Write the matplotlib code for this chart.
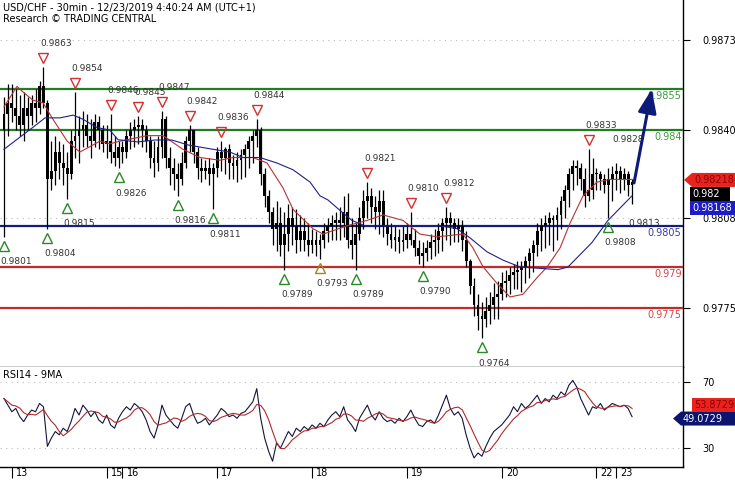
import numpy as np
import pandas as pd
import matplotlib
matplotlib.use('Agg')
import matplotlib.pyplot as plt
from matplotlib.transforms import ScaledTranslation
from matplotlib.patches import Polygon

# USD/CHF hourly candles, prices in pips (0.9840 -> 9840)
days = ['12', '13', '15', '16', '17', '18', '19', '20', '22', '23']
bars_per_day = [2, 24, 4, 24, 24, 24, 24, 24, 5, 5]
first_open = 9840
highs = [9852, 9857, 9857, 9855, 9853, 9854, 9852, 9853, 9855, 9858,
         9863, 9851, 9836, 9838, 9836, 9835, 9832, 9840, 9854, 9845,
         9847, 9846, 9844, 9846, 9845, 9842, 9842, 9846, 9838, 9836,
         9836, 9840, 9843, 9844, 9845, 9844, 9842, 9838, 9836, 9838,
         9847, 9845, 9834, 9830, 9828, 9832, 9838, 9842, 9840, 9834,
         9830, 9829, 9830, 9828, 9834, 9836, 9834, 9835, 9831, 9832,
         9833, 9835, 9838, 9840, 9844, 9841, 9826, 9818, 9812, 9814,
         9812, 9810, 9813, 9812, 9811, 9809, 9808, 9806, 9804, 9803,
         9802, 9806, 9808, 9809, 9810, 9812, 9816, 9817, 9808, 9806,
         9812, 9818, 9821, 9819, 9816, 9818, 9818, 9808, 9806, 9805,
         9804, 9805, 9806, 9810, 9804, 9800, 9799, 9800, 9802, 9804,
         9806, 9808, 9812, 9810, 9808, 9808, 9807, 9803, 9793, 9786,
         9780, 9777, 9779, 9781, 9784, 9785, 9788, 9789, 9790, 9791,
         9792, 9792, 9794, 9797, 9800, 9806, 9808, 9809, 9810, 9809,
         9812, 9816, 9820, 9826, 9829, 9829, 9828, 9826, 9833, 9830,
         9826, 9825, 9824, 9826, 9827, 9828, 9827, 9826, 9825, 9822]
lows = [9801, 9838, 9843, 9840, 9838, 9836, 9840, 9842, 9843, 9846,
        9848, 9804, 9818, 9820, 9822, 9820, 9815, 9822, 9830, 9828,
        9834, 9834, 9830, 9834, 9833, 9832, 9830, 9828, 9827, 9826,
        9828, 9830, 9833, 9834, 9835, 9834, 9832, 9826, 9823, 9825,
        9830, 9826, 9820, 9818, 9816, 9820, 9826, 9832, 9828, 9822,
        9821, 9822, 9820, 9811, 9823, 9825, 9824, 9822, 9822, 9821,
        9822, 9823, 9826, 9828, 9834, 9820, 9812, 9806, 9798, 9796,
        9794, 9789, 9796, 9798, 9795, 9796, 9796, 9794, 9795, 9794,
        9793, 9797, 9799, 9800, 9800, 9800, 9801, 9797, 9793, 9789,
        9800, 9804, 9808, 9806, 9804, 9802, 9801, 9798, 9797, 9796,
        9795, 9796, 9797, 9798, 9794, 9791, 9790, 9792, 9793, 9794,
        9795, 9796, 9800, 9798, 9799, 9799, 9796, 9790, 9780, 9772,
        9767, 9764, 9768, 9769, 9771, 9771, 9778, 9779, 9780, 9782,
        9782, 9781, 9784, 9786, 9788, 9794, 9796, 9797, 9798, 9796,
        9800, 9804, 9808, 9812, 9818, 9820, 9818, 9812, 9814, 9815,
        9818, 9818, 9817, 9808, 9814, 9818, 9817, 9818, 9816, 9813]
closes = [9846, 9850, 9848, 9845, 9842, 9848, 9845, 9850, 9848, 9856,
          9850, 9822, 9825, 9832, 9828, 9826, 9824, 9836, 9838, 9840,
          9842, 9838, 9836, 9843, 9840, 9835, 9836, 9832, 9830, 9834,
          9832, 9838, 9840, 9841, 9842, 9840, 9836, 9830, 9828, 9834,
          9844, 9830, 9826, 9824, 9822, 9828, 9836, 9840, 9832, 9826,
          9825, 9826, 9824, 9826, 9832, 9830, 9833, 9828, 9827, 9829,
          9831, 9833, 9836, 9838, 9840, 9824, 9816, 9810, 9804, 9806,
          9798, 9802, 9808, 9805, 9800, 9803, 9800, 9798, 9800, 9798,
          9800, 9803, 9805, 9806, 9807, 9806, 9810, 9800, 9798, 9802,
          9808, 9814, 9816, 9812, 9810, 9814, 9805, 9802, 9800, 9801,
          9799, 9800, 9802, 9800, 9797, 9794, 9795, 9797, 9799, 9800,
          9803, 9806, 9808, 9806, 9804, 9805, 9800, 9792, 9783, 9776,
          9772, 9771, 9774, 9776, 9779, 9780, 9784, 9785, 9787, 9788,
          9789, 9790, 9792, 9795, 9798, 9803, 9805, 9806, 9808, 9807,
          9809, 9814, 9818, 9824, 9827, 9826, 9822, 9816, 9818, 9824,
          9824, 9822, 9820, 9822, 9824, 9825, 9822, 9824, 9820, 9821]

# moving averages (bar index, pips)
red_ma_idx = [0, 3.3, 4.8, 7.3, 9.9, 12.4, 16, 19.2, 21.8, 24.3, 26.8, 29.4, 36.2, 40.3, 45.3,
              49.6, 54.7, 58, 63, 66.6, 70.6, 73.2, 78.2, 80.8, 86.8, 91.9, 96, 101, 105.3,
              109.6, 116.2, 118.7, 121.3, 124.8, 128.1, 131.4, 134.9, 137.5, 140.8, 143.3,
              146.6, 150.1, 153.4, 159]
red_ma = [9848.5, 9856, 9854, 9851, 9850, 9844, 9836, 9832, 9834, 9836, 9835, 9836, 9838, 9838,
          9833, 9830, 9829, 9830, 9830, 9828, 9819, 9811, 9804, 9802, 9805, 9807, 9809, 9807,
          9802, 9801, 9802, 9797, 9790, 9784, 9779, 9780, 9786, 9790, 9797, 9806, 9816, 9821,
          9822, 9822]
blue_ma_idx = [0, 4.1, 7.3, 10.4, 14.2, 17.5, 20, 23.5, 26.8, 28.9, 33.9, 38.2, 42.5, 46.6,
               50.9, 57.2, 60.5, 64.8, 69.1, 73.2, 77.5, 80, 82, 85.6, 88.1, 91.4, 100.3, 110.4,
               114.7, 118, 122.3, 126.3, 130.6, 140.3, 142.8, 148.9, 152.9, 159]
blue_ma = [9833, 9837.5, 9841, 9844.5, 9844.5, 9845.5, 9844, 9841, 9840, 9836.5, 9835.7, 9836.4,
           9836.4, 9834.6, 9833.5, 9832, 9830, 9830, 9828, 9825.5, 9821, 9816, 9814.5, 9810,
           9807, 9805, 9805, 9805, 9804, 9800.6, 9795.5, 9792.5, 9790, 9789, 9790, 9799, 9807,
           9816]

rsi = [60, 56, 52, 54, 49, 46, 50, 53, 52, 57, 55, 31, 36, 40, 38, 42, 40, 46, 54, 50,
       56, 53, 49, 52, 47, 45, 50, 44, 42, 48, 52, 55, 53, 57, 55, 52, 47, 40, 36, 44,
       56, 50, 47, 44, 42, 48, 55, 57, 50, 45, 46, 48, 44, 47, 50, 54, 52, 49, 50, 48,
       51, 52, 55, 58, 66, 48, 36, 28, 22, 33, 30, 35, 40, 37, 42, 40, 43, 41, 44, 42,
       45, 43, 47, 50, 52, 49, 55, 47, 44, 40, 48, 52, 56, 50, 47, 52, 48, 46, 47, 45,
       48, 46, 49, 53, 48, 44, 43, 46, 47, 45, 50, 56, 62, 54, 50, 52, 48, 38, 30, 24,
       27, 25, 31, 36, 40, 42, 44, 47, 50, 55, 52, 57, 54, 56, 59, 62, 57, 60, 58, 62,
       60, 64, 62, 68, 71, 67, 60, 55, 50, 55, 54, 57, 53, 55, 57, 56, 55, 56, 54, 49]

levels = [9855, 9840, 9805, 9790, 9775]
level_colors = ['#1f7f1f', '#1f7f1f', '#121d7c', '#c42a2a', '#c42a2a']
level_text_colors = ['#3c9a3c', '#3c9a3c', '#3a3aa0', '#d04848', '#d04848']
price_ticks = [9873, 9840, 9808, 9775]
rsi_ticks = [70, 30]
high_marks = [10, 18, 27, 34, 40, 47, 55, 64, 92, 103, 112, 148]
low_marks = [0, 11, 16, 29, 44, 53, 71, 80, 89, 106, 121, 153]
high_text_only = [155]
low_text_only = [159]
arrow_target = 9855
last_tag, bid_tag, ask_tag = '0.98218', '0.982', '0.98168'
rsi_last, rsi_ma_last = 49.0729, 53.8729

P = lambda v: np.asarray(v, dtype=float) / 10000.0

h, l, c = P(highs), P(lows), P(closes)
o = np.r_[first_open / 10000.0, c[:-1]]
n = len(c)
x = np.arange(n)
starts = np.cumsum([0] + bars_per_day[:-1])

W, H = 735, 480
fig = plt.figure(figsize=(W / 100, H / 100), dpi=100)
ax = fig.add_axes([0, 113 / H, 683 / W, 367 / H])
ax2 = fig.add_axes([0, 13 / H, 683 / W, 100 / H])

for a in (ax, ax2):
    a.set_xlim(-1.0, 171.9)
    for s in ('left', 'top'):
        a.spines[s].set_visible(False)
    a.spines['right'].set_linewidth(1.0)
    a.spines['bottom'].set_linewidth(1.0)
    a.yaxis.tick_right()
    a.tick_params(axis='y', direction='out', length=5, labelsize=7, pad=9)
ax.set_ylim(0.97534, 0.98876)
ax2.set_ylim(18.5, 79.1)

# grid
for v in price_ticks:
    ax.axhline(v / 10000, color='#bdbdbd', lw=0.8, ls=(0, (1, 4)), zorder=0)
for v in rsi_ticks:
    ax2.axhline(v, color='#bdbdbd', lw=0.8, ls=(0, (1, 4)), zorder=0)

# support / resistance lines
for v, col in zip(levels, level_colors):
    ax.axhline(v / 10000, color=col, lw=1.6, zorder=3)
for v, col in zip(levels, level_text_colors):
    ax.annotate(f'{v / 10000:g}', xy=(1, v / 10000), xycoords=('axes fraction', 'data'),
                xytext=(-1, -1.5), textcoords='offset points', ha='right', va='top',
                fontsize=7, color=col, zorder=6)

# candles
ax.vlines(x, l, h, color='black', lw=0.9, zorder=4)
ax.bar(x, np.maximum(np.abs(c - o), 0.00003), bottom=np.minimum(o, c), width=0.72,
       color='black', zorder=4)

ax.plot(red_ma_idx, P(red_ma), color='#b83232', lw=0.8, zorder=5)
ax.plot(blue_ma_idx, P(blue_ma), color='#20208a', lw=0.8, zorder=5)

# swing high / low markers
up9 = ax.transData + ScaledTranslation(0, 0.09, fig.dpi_scale_trans)
dn9 = ax.transData + ScaledTranslation(0, -0.09, fig.dpi_scale_trans)
ax.plot(high_marks, h[high_marks], ls='none', marker='v', ms=6.5, mfc='none', mec='#d43030',
        mew=1, transform=up9, zorder=6)
low_cols = ['#9a8a20' if i == 80 else '#2a8a2a' for i in low_marks]
for i, col in zip(low_marks, low_cols):
    ax.plot([i], [l[i]], ls='none', marker='^', ms=6.5, mfc='none', mec=col, mew=1,
            transform=dn9, zorder=6)
for i in high_marks + high_text_only:
    ax.annotate(f'{h[i]:.4f}', xy=(i, h[i]), xytext=(-2.5, 17), textcoords='offset points',
                ha='left', va='center', fontsize=6.5, color='#333333', zorder=6)
for i in low_marks:
    ax.annotate(f'{l[i]:.4f}', xy=(i, l[i]), xytext=(-2.5, -18), textcoords='offset points',
                ha='left', va='center', fontsize=6.5, color='#333333', zorder=6)
for i in low_text_only:
    ax.annotate(f'{l[i]:.4f}', xy=(i, l[i]), xytext=(-2.5, -14), textcoords='offset points',
                ha='left', va='center', fontsize=6.5, color='#333333', zorder=2)

# forecast arrow
ax.annotate('', xy=(n + 4, arrow_target / 10000), xytext=(n - 0.5, c[-1] - 0.00003),
            arrowprops=dict(arrowstyle='-|>,head_length=0.9,head_width=0.35', color='#0d1a78',
                            lw=2.2, shrinkA=0, shrinkB=0, mutation_scale=16), zorder=7)

ax.set_xticks([])
ax.set_yticks(P(price_ticks))
ax.set_yticklabels([f'{v / 10000:.4f}' for v in price_ticks])

# RSI panel
rsi_ma = pd.Series(rsi, dtype=float).rolling(5, min_periods=1).mean()
ax2.plot(x, rsi, color='#14143c', lw=0.8)
ax2.plot(x, rsi_ma, color='#b02a2a', lw=0.8)
ax2.set_yticks(rsi_ticks)
ax2.set_yticklabels([str(v) for v in rsi_ticks])
ax2.set_xticks(starts[1:])
ax2.tick_params(axis='x', direction='out', length=8, width=0.8, labelbottom=False)
for pos, d in zip(starts[1:], days[1:]):
    ax2.annotate(d, xy=(pos, 0), xycoords=('data', 'axes fraction'), xytext=(3, -1),
                 textcoords='offset points', ha='left', va='top', fontsize=7)
ax2.text(0.004, 0.92, 'RSI14 - 9MA', transform=ax2.transAxes, fontsize=7, va='center')

fig.text(3 / W, 1 - 7 / H, 'USD/CHF - 30min - 12/23/2019 4:40:24 AM (UTC+1)', fontsize=7,
         va='center')
fig.text(3 / W, 1 - 19 / H, 'Research \u00a9 TRADING CENTRAL', fontsize=7, va='center')


# value tags on the right axis (pixel geometry, y from the data value)
def tag(a, value, dy, text, fc, tc, x0, tip=None, x1=735, hgt=14):
    yc = a.transData.transform((0, value))[1] + dy
    y0, y1 = yc - hgt / 2, yc + hgt / 2
    pts = [(x0, y0), (x1, y0), (x1, y1), (x0, y1)]
    if tip is not None:
        pts = [(tip, yc)] + pts
    fig.patches.append(Polygon([(px / W, py / H) for px, py in pts], closed=True,
                               transform=fig.transFigure, fc=fc, ec='none', zorder=8))
    fig.text((x0 + 2) / W, yc / H, text, fontsize=7, color=tc, va='center', ha='left',
             zorder=9)


last_val = float(last_tag)
tag(ax, last_val, 0, last_tag, '#e8231f', '#8a0000', 692, tip=684)
tag(ax, last_val, -14, bid_tag, '#000000', 'white', 690, x1=730)
tag(ax, last_val, -28, ask_tag, '#1c1cc8', 'white', 690)
tag(ax2, rsi_last, -2, f'{rsi_last:.4f}', '#0c1470', 'white', 681, tip=673)
tag(ax2, rsi_last, 12, f'{rsi_ma_last:.4f}', '#e8231f', '#8a0000', 692)

fig.savefig('out.png', dpi=100)
